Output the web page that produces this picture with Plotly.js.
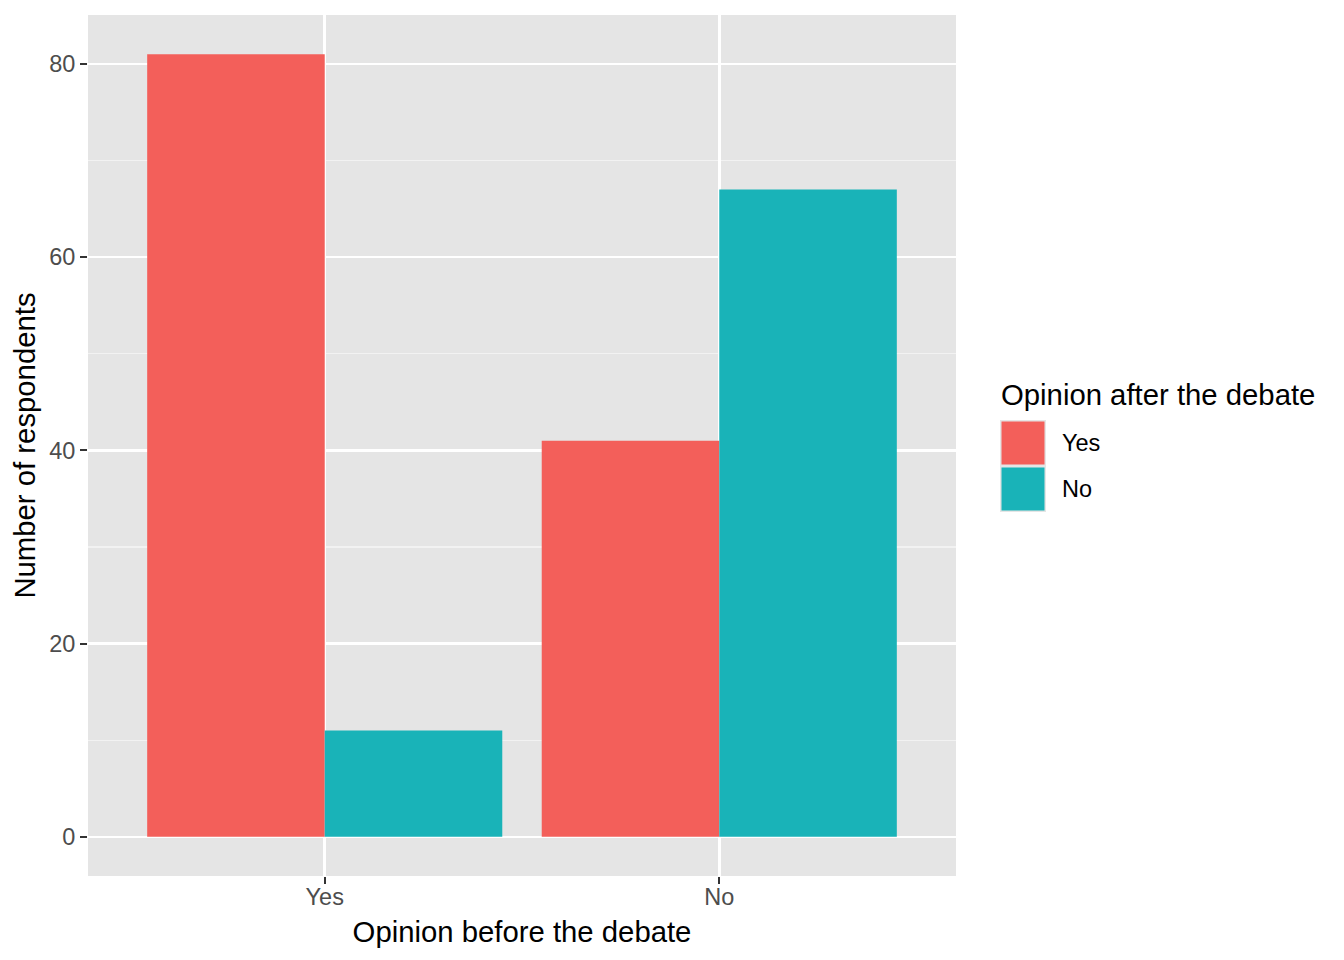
<!DOCTYPE html>
<html>
<head>
<meta charset="utf-8">
<script src="https://cdn.plot.ly/plotly-3.0.1.min.js"></script>
<style>html,body{margin:0;padding:0;background:#fff;}#chart{width:1344px;height:960px;}</style>
</head>
<body>
<div id="chart"></div>
<script>
// Data
const categories = ["Yes", "No"];            // Opinion before the debate
const seriesNames = ["Yes", "No"];           // Opinion after the debate
const afterYes = [81, 41];
const afterNo = [11, 67];
const yTicks = [0, 20, 40, 60, 80];
const colors = ["#F35F5A", "#19B3B8"];

const W = 1344, H = 960;
const L = 88, R = 956, T = 15, B = 876;
const px = x => (x - L) / (R - L);
const py = y => (B - y) / (B - T);

const font = "Liberation Sans, Arial, Helvetica, sans-serif";

const traces = [
  {type: "bar", name: seriesNames[0], x: categories, y: afterYes, marker: {color: colors[0]}, showlegend: false, hoverinfo: "x+y+name"},
  {type: "bar", name: seriesNames[1], x: categories, y: afterNo, marker: {color: colors[1]}, showlegend: false, hoverinfo: "x+y+name"}
];

const shapes = [];
const annotations = [];
// manual legend (ggplot-like keys)
const keyTop = 420, keyH = 46, keyL = 1000, keyW = 46;
seriesNames.forEach((n, i) => {
  const t = keyTop + i * keyH;
  shapes.push({type: "rect", xref: "paper", yref: "paper", x0: px(keyL), x1: px(keyL + keyW), y0: py(t + keyH), y1: py(t), fillcolor: "#E5E5E5", line: {width: 0}, layer: "above"});
  shapes.push({type: "rect", xref: "paper", yref: "paper", x0: px(keyL + 1.5), x1: px(keyL + keyW - 1.5), y0: py(t + keyH - 1.5), y1: py(t + 1.5), fillcolor: colors[i], line: {width: 0}, layer: "above"});
  annotations.push({xref: "paper", yref: "paper", x: px(1060), y: py(t + keyH / 2), xanchor: "left", yanchor: "middle", text: n, showarrow: false, font: {family: font, size: 23.5, color: "#000000"}});
});
annotations.push({xref: "paper", yref: "paper", x: px(999), y: py(394), xanchor: "left", yanchor: "middle", text: "Opinion after the debate", showarrow: false, font: {family: font, size: 29.3, color: "#000000"}});

const layout = {
  width: W, height: H,
  margin: {l: L, r: W - R, t: T, b: H - B, pad: 0},
  paper_bgcolor: "#FFFFFF",
  plot_bgcolor: "#E5E5E5",
  barmode: "group",
  bargap: 0.1,
  bargroupgap: 0,
  font: {family: font},
  xaxis: {
    type: "category",
    range: [-0.6, 1.6],
    showgrid: true, gridcolor: "#FFFFFF", gridwidth: 2.5,
    zeroline: false, showline: false,
    ticks: "outside", ticklen: 7, tickwidth: 2, tickcolor: "#333333",
    ticklabelstandoff: -7,
    tickfont: {family: font, size: 23.5, color: "#4D4D4D"},
    title: {text: "Opinion before the debate", font: {family: font, size: 29.3, color: "#000000"}, standoff: 12},
    automargin: false,
    fixedrange: true
  },
  yaxis: {
    range: [-4.05, 85.05],
    tickvals: yTicks, ticktext: yTicks.map(String),
    showgrid: true, gridcolor: "#FFFFFF", gridwidth: 2.5,
    minor: {dtick: 10, tick0: 0, showgrid: true, gridcolor: "#F2F2F2", gridwidth: 1.2, ticks: ""},
    zeroline: false, showline: false,
    ticks: "outside", ticklen: 7, tickwidth: 2, tickcolor: "#333333",
    tickfont: {family: font, size: 23.5, color: "#4D4D4D"},
    title: {text: "Number of respondents", font: {family: font, size: 29.3, color: "#000000"}, standoff: 4},
    automargin: false,
    fixedrange: true
  },
  shapes: shapes,
  annotations: annotations,
  showlegend: false
};

Plotly.newPlot("chart", traces, layout, {displayModeBar: false, staticPlot: true});
</script>
</body>
</html>
